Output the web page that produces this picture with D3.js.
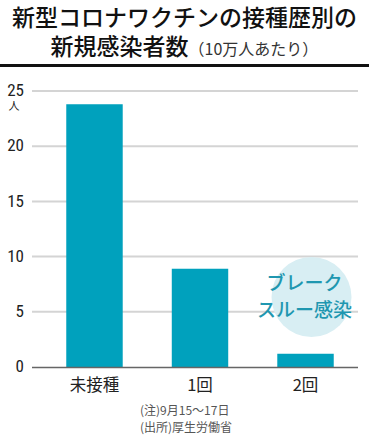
<!DOCTYPE html>
<html><head><meta charset="utf-8">
<script src="https://cdn.jsdelivr.net/npm/d3@7"></script>
<style>body{margin:0;background:#fff}svg{display:block}</style>
</head><body>
<script>
const categories = ["未接種", "1回", "2回"];
const values = [23.8, 8.9, 1.2];
const yTicks = [0, 5, 10, 15, 20, 25];
const titleLine1 = "新型コロナワクチンの接種歴別の";
const titleLine2 = "新規感染者数";
const titleSub = "（10万人あたり）";
const unitLabel = "人";
const notes = ["(注)9月15～17日", "(出所)厚生労働省"];
const annotation = ["ブレーク", "スルー感染"];

const W = 369, H = 438;
const jp = "'Noto Sans CJK JP', 'Noto Sans', sans-serif";
const num = "'Roboto Condensed', 'Liberation Sans Narrow', Roboto, sans-serif";
const svg = d3.select("body").append("svg").attr("width", W).attr("height", H);

// title
svg.append("text").attr("x", W/2).attr("y", 26).attr("text-anchor","middle")
  .attr("font-family", jp).attr("font-weight", 500).attr("font-size", 23).attr("fill","#111").text(titleLine1);
const t2 = svg.append("text").attr("x", W/2).attr("y", 55).attr("text-anchor","middle")
  .attr("font-family", jp).attr("fill","#111");
t2.append("tspan").attr("font-weight",500).attr("font-size",23).text(titleLine2);
t2.append("tspan").attr("font-weight",400).attr("font-size",16).attr("fill","#333").text(titleSub);
svg.append("rect").attr("x",0).attr("y",64).attr("width",W).attr("height",3).attr("fill","#111");

const y = d3.scaleLinear().domain([0, 25]).range([367, 91]);
const x = d3.scaleBand().domain(categories).range([42, 358]).paddingInner(0.465).paddingOuter(0.23);

// grid
svg.append("g").selectAll("line").data(yTicks.filter(d=>d>0)).join("line")
  .attr("x1", 32).attr("x2", 358).attr("y1", d=>y(d)).attr("y2", d=>y(d))
  .attr("stroke","#d4d4d4").attr("stroke-width",2);

// annotation circle (behind bars)
svg.append("circle").attr("cx", x("2回")+x.bandwidth()/2+6).attr("cy", 297).attr("r", 40).attr("fill","#d8eef3");

// y tick labels
svg.append("g").selectAll("text").data(yTicks).join("text")
  .attr("x", 24).attr("y", d=>y(d)).attr("dy","0.3em").attr("text-anchor","end")
  .attr("font-family", num).attr("font-size", 17).attr("fill","#222").text(d=>d);
svg.append("text").attr("x", 14).attr("y", y(25)+19).attr("text-anchor","middle")
  .attr("font-family", jp).attr("font-size", 11).attr("fill","#222").text(unitLabel);

// bars
svg.append("g").selectAll("rect").data(values).join("rect")
  .attr("x", (d,i)=>x(categories[i])).attr("width", x.bandwidth())
  .attr("y", d=>y(d)).attr("height", d=>y(0)-y(d)).attr("fill","#00a1bd");

// baseline
svg.append("line").attr("x1",32).attr("x2",358).attr("y1",y(0)+0.5).attr("y2",y(0)+0.5)
  .attr("stroke","#666").attr("stroke-width",1.5);

// annotation text
svg.append("g").selectAll("text").data(annotation).join("text")
  .attr("x", x("2回")+x.bandwidth()/2-1).attr("y",(d,i)=>290+i*27).attr("text-anchor","middle")
  .attr("font-family", jp).attr("font-weight",500).attr("font-size",19).attr("fill","#1f97b0").text(d=>d);

// x labels
svg.append("g").selectAll("text").data(categories).join("text")
  .attr("x", d=>x(d)+x.bandwidth()/2).attr("y", 391).attr("text-anchor","middle")
  .attr("font-family", jp).attr("font-size", 16.5).attr("fill","#222").text(d=>d);

// notes
svg.append("g").selectAll("text").data(notes).join("text")
  .attr("x", 140).attr("y",(d,i)=>415+i*17)
  .attr("font-family", jp).attr("font-size", 12).attr("fill","#555").text(d=>d);
</script>
</body></html>
